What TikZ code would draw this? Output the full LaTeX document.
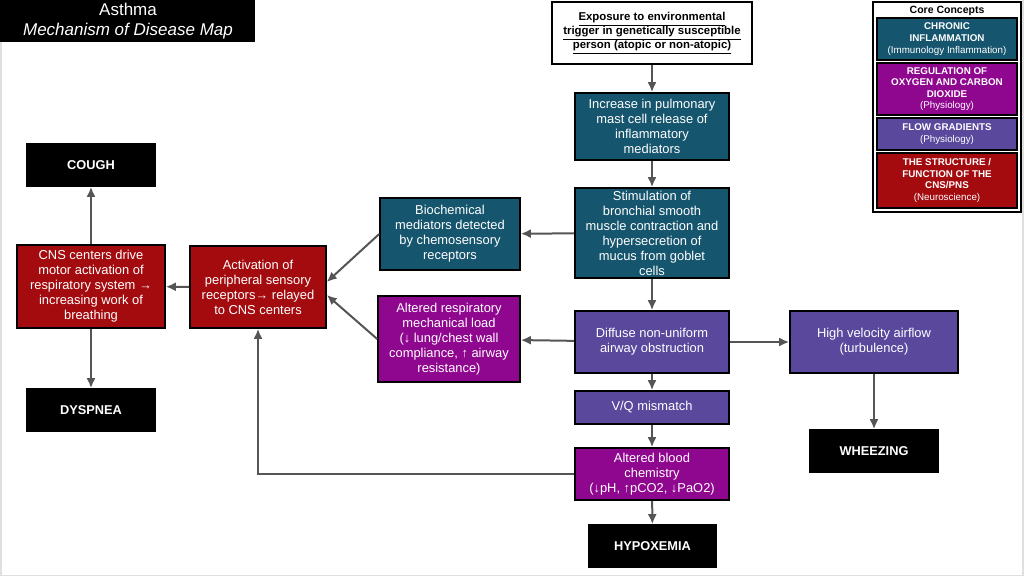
\documentclass[tikz,border=0pt]{standalone}
\usepackage{fontspec}
\setmainfont{Liberation Sans}
\usetikzlibrary{arrows.meta}
\definecolor{teal1}{HTML}{16556E}
\definecolor{magenta1}{HTML}{8F078F}
\definecolor{violet1}{HTML}{59489C}
\definecolor{red1}{HTML}{A30B0F}
\definecolor{arrowgray}{HTML}{555555}
\tikzset{
  box/.style={draw=black, line width=1.6pt, text=white, align=center, inner sep=0pt,
    font=\fontsize{12.9}{15}\selectfont},
  inflam/.style={box, fill=teal1},
  oxygen/.style={box, fill=magenta1},
  flow/.style={box, fill=violet1},
  nerve/.style={box, fill=red1},
  sign/.style={box, fill=black, minimum width=128pt, minimum height=42pt,
    font=\fontsize{12.8}{15}\selectfont\bfseries},
  legendbox/.style={minimum width=140pt, line width=1.4pt,
    font=\fontsize{9.8}{11.6}\selectfont},
  link/.style={draw=arrowgray, line width=2pt, -{Latex[length=10pt,width=9pt]}}
}
\begin{document}
\begin{tikzpicture}[x=1pt, y=-1pt]
\useasboundingbox (0,0) rectangle (1024,576);
\fill[white] (0,0) rectangle (1024,576);
\draw[gray!25, line width=1.5pt] (0.75,0) -- (0.75,575.25) -- (1022.75,575.25) -- (1022.75,0);

% title
\fill[black] (0,0) rectangle (255,42);
\node[text=white, font=\fontsize{17}{19.5}\selectfont, align=center] (title) at (128,21)
  {Asthma\\\itshape Mechanism of Disease Map};

% main chain
\node[box, fill=white, text=black, line width=2pt, minimum width=200pt, minimum height=62pt,
  font=\fontsize{11.4}{14}\selectfont\bfseries] (trigger) at (652,33)
  {\underline{Exposure to environmental}\\\underline{trigger in genetically susceptible}\\\underline{person (atopic or non-atopic)}};
\node[inflam, minimum width=154pt, minimum height=67pt] (mast) at (652,126.5)
  {Increase in pulmonary\\mast cell release of\\inflammatory\\mediators};
\node[inflam, minimum width=154pt, minimum height=90pt] (stim) at (652,233)
  {Stimulation of\\bronchial smooth\\muscle contraction and\\hypersecretion of\\mucus from goblet\\cells};
\node[inflam, minimum width=140pt, minimum height=72pt] (biochem) at (450,234)
  {Biochemical\\mediators detected\\by chemosensory\\receptors};
\node[oxygen, minimum width=142pt, minimum height=86pt] (load) at (449,339)
  {Altered respiratory\\mechanical load\\(↓ lung/chest wall\\compliance, ↑ airway\\resistance)};
\node[flow, minimum width=154pt, minimum height=62pt] (diffuse) at (652,342)
  {Diffuse non-uniform\\airway obstruction};
\node[flow, minimum width=168pt, minimum height=62pt] (velocity) at (874,342)
  {High velocity airflow\\(turbulence)};
\node[flow, minimum width=154pt, minimum height=33pt] (vq) at (652,407.5)
  {V/Q mismatch};
\node[oxygen, minimum width=154pt, minimum height=52pt] (blood) at (652,474)
  {Altered blood\\chemistry\\(↓pH, ↑pCO2, ↓PaO2)};
\node[nerve, minimum width=136pt, minimum height=82pt] (receptors) at (258,287)
  {Activation of\\peripheral sensory\\receptors→ relayed\\to CNS centers};
\node[nerve, minimum width=148pt, minimum height=83pt] (cns) at (91,286.5)
  {CNS centers drive\\motor activation of\\respiratory system →\\increasing work of\\breathing};

% clinical signs
\node[sign] (hypoxemia) at (652.5,546) {HYPOXEMIA};
\node[sign] (wheezing) at (874,451) {WHEEZING};
\node[sign] (cough) at (91,165) {COUGH};
\node[sign] (dyspnea) at (91,410) {DYSPNEA};

% connectors
\draw[link] (trigger) -- (mast);
\draw[link] (mast) -- (stim);
\draw[link] (stim) -- (biochem);
\draw[link] (stim) -- (diffuse);
\draw[link] (diffuse) -- (load);
\draw[link] (diffuse) -- (velocity);
\draw[link] (diffuse) -- (vq);
\draw[link] (vq) -- (blood);
\draw[link] (blood) -- (hypoxemia);
\draw[link] (velocity) -- (wheezing);
\draw[link] (biochem.west) -- ([yshift=5pt]receptors.east);
\draw[link] (load.west) -- ([yshift=-8pt]receptors.east);
\draw[link] (blood.west) -| (receptors.south);
\draw[link] (receptors) -- (cns);
\draw[link] (cns) -- (cough);
\draw[link] (cns) -- (dyspnea);

% core concepts legend
\draw[black, line width=1.6pt, fill=white] (873,2) rectangle (1021,212);
\node[font=\fontsize{10.5}{12}\selectfont\bfseries] (legendtitle) at (947,10.5) {Core Concepts};
\node[inflam, legendbox, minimum height=42pt] (leginflam) at (947,39)
  {\textbf{CHRONIC}\\\textbf{INFLAMMATION}\\(Immunology Inflammation)};
\node[oxygen, legendbox, minimum height=52pt] (legoxygen) at (947,89)
  {\textbf{REGULATION OF}\\\textbf{OXYGEN AND CARBON}\\\textbf{DIOXIDE}\\(Physiology)};
\node[flow, legendbox, minimum height=32pt] (legflow) at (947,134)
  {\textbf{FLOW GRADIENTS}\\(Physiology)};
\node[nerve, legendbox, minimum height=55pt] (legnerve) at (947,180.5)
  {\textbf{THE STRUCTURE /}\\\textbf{FUNCTION OF THE}\\\textbf{CNS/PNS}\\(Neuroscience)};
\end{tikzpicture}
\end{document}
